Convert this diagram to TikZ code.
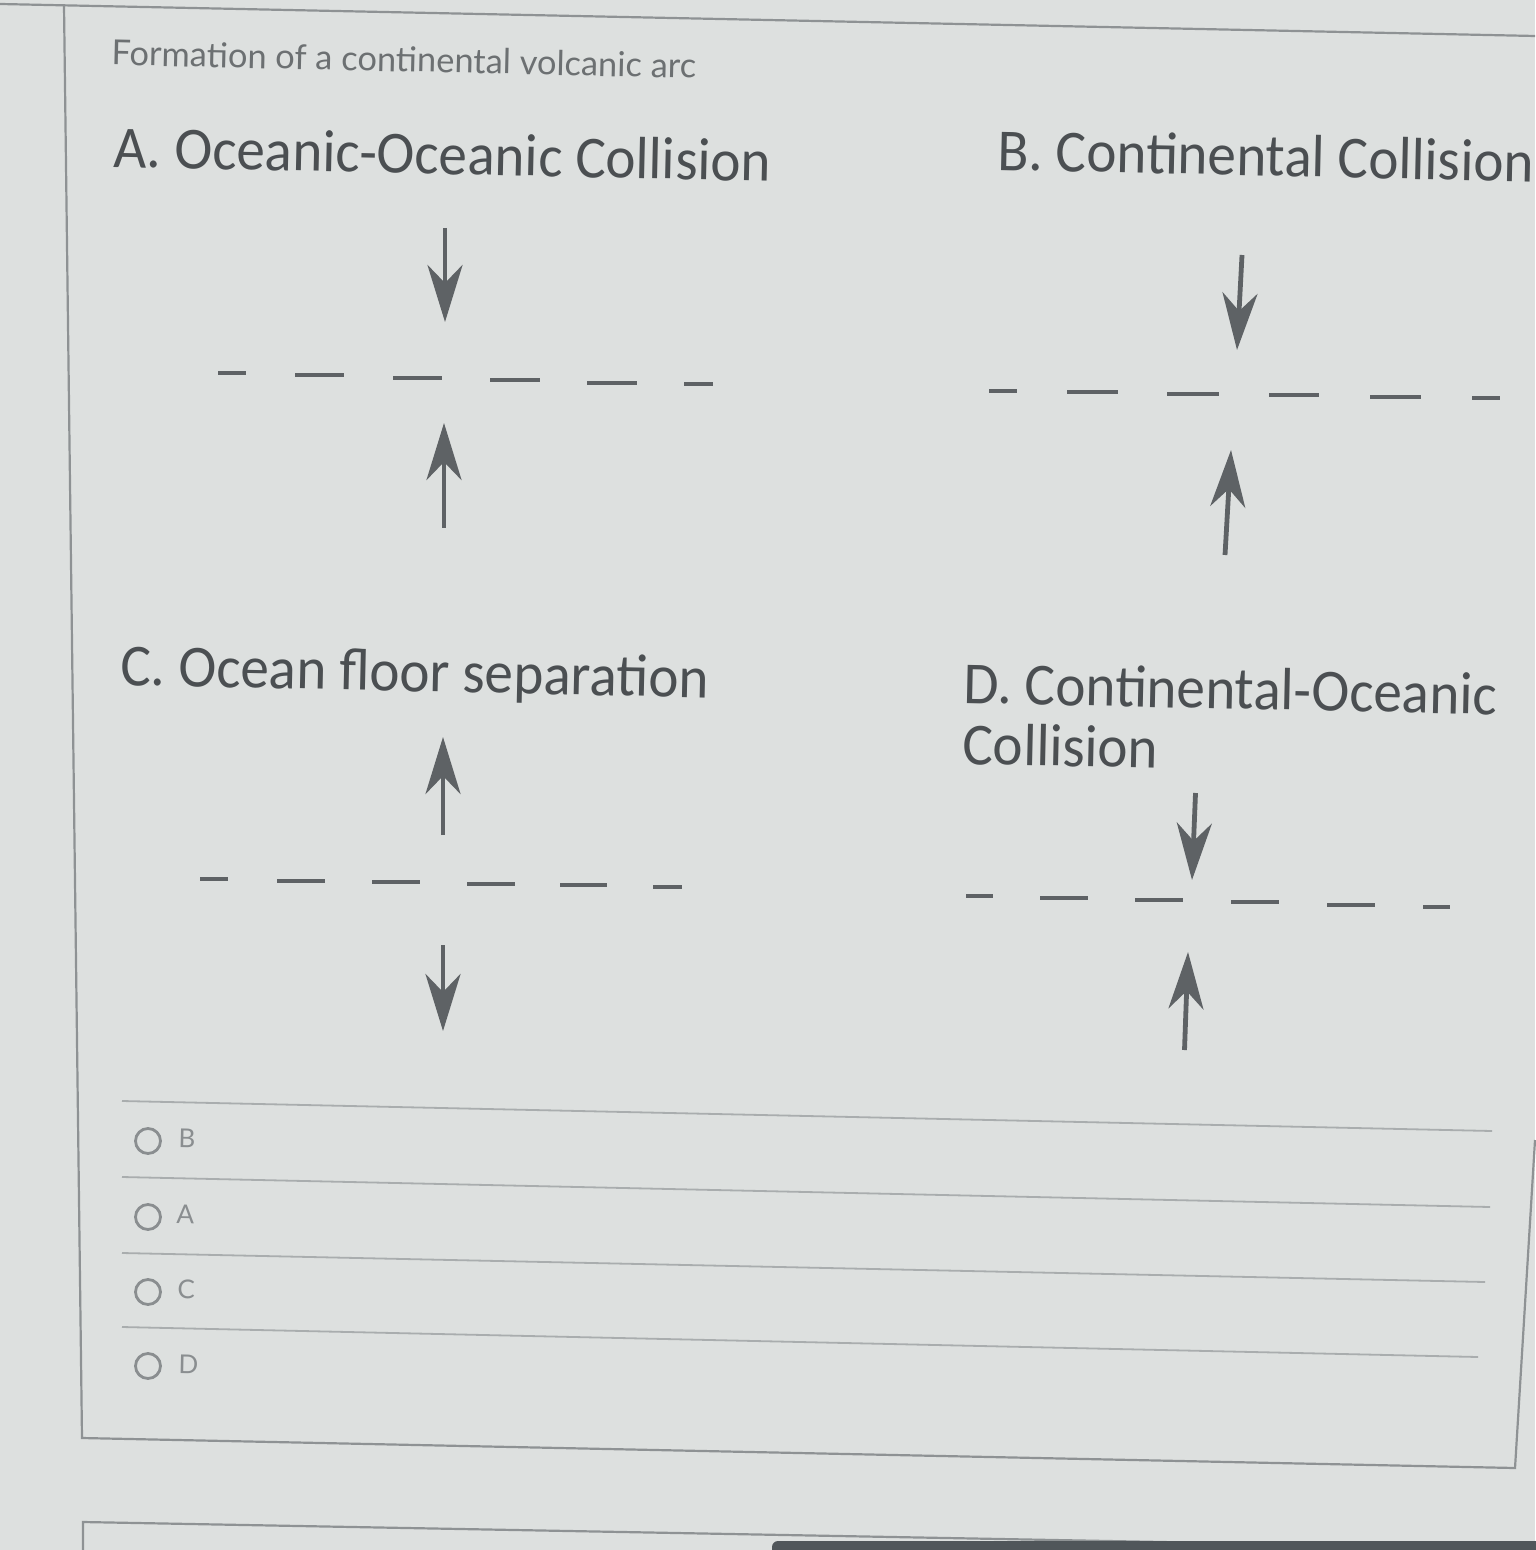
\documentclass[tikz,border=0pt]{standalone}
\usepackage{fontspec}
\setmainfont[FakeStretch=0.96]{Carlito}
\newfontfamily\latofont{Lato}
\usetikzlibrary{arrows.meta}
\definecolor{bg}{HTML}{DDE0DF}
\definecolor{ink}{HTML}{5E6265}
\definecolor{headc}{HTML}{4B4F52}
\definecolor{ttlc}{HTML}{6C7072}
\definecolor{optc}{HTML}{8A8E90}
\definecolor{framec}{HTML}{8E9294}
\definecolor{sepc}{HTML}{A9ADAE}
\definecolor{barc}{HTML}{50565A}
\begin{document}
\begin{tikzpicture}[x=0.5pt,y=-0.5pt,
  heading/.style={font=\fontsize{29.8}{30.5}\selectfont, text=headc, inner sep=0pt, anchor=base west, rotate=-1.25},
  titletext/.style={font=\latofont\fontsize{17.2}{19}\selectfont, text=ttlc, inner sep=0pt, anchor=base west, rotate=-1.3},
  optletter/.style={font=\latofont\fontsize{13}{15}\selectfont, text=optc, inner sep=0pt, anchor=base west, rotate=-1.2},
  radio/.style={circle, draw=optc, line width=1.4pt, minimum size=12.5pt, inner sep=0pt},
  arr/.style={draw=ink, line width=2.4pt, -{Stealth[length=28.5pt,width=17.5pt,inset=9pt]}},
  dsh/.style={draw=ink, line width=2.3pt},
  framel/.style={draw=framec, line width=1.1pt},
  sepl/.style={draw=sepc, line width=0.9pt}]
\fill[bg] (0,0) rectangle (1535,1550);
\useasboundingbox (0,0) rectangle (1535,1550);

% card frame
\coordinate (tl0) at (0,4);
\coordinate (tr0) at (1535,36);
\coordinate (lt) at (64,5);
\coordinate (lb) at (82,1438);
\coordinate (rb) at (1515,1468);
\coordinate (rt) at (1535,1140);
\draw[framel] (tl0) -- (tr0);
\draw[framel] (lt) -- (lb) -- (rb) -- (rt);

% next card
\coordinate (n1) at (83,1560);
\coordinate (n2) at (83,1522);
\coordinate (n3) at (1540,1549);
\draw[framel] (n1) -- (n2) -- (n3);
\fill[barc, rounded corners=3pt] (772,1541) rectangle (1560,1570);

% title
\node[titletext] (title) at (111,65) {Formation of a continental volcanic arc};

% headings
\node[heading] (hA) at (113,167) {A. Oceanic-Oceanic Collision};
\node[heading] (hB) at (997,170) {B. Continental Collision};
\node[heading] (hC) at (120,685) {C. Ocean floor separation};
\node[heading, align=left] (hD) at (962,764) {D. Continental-Oceanic\\Collision};

% dashes
\foreach \a/\b/\y in {218/246/373,295/344/375,393/442/378,490/540/380,587/637/383,684/713/384,
                      989/1017/391,1067/1118/392,1167/1219/394,1269/1319/395,1370/1421/397,1472/1500/398,
                      200/228/879,277/325/881,372/420/882,467/515/884,560/607/885,653/682/887,
                      966/993/896,1040/1088/898,1135/1183/900,1231/1279/902,1327/1375/905,1423/1450/907}
  \draw[dsh] (\a,\y) -- (\b,\y);

% arrows A
\coordinate (a1s) at (445,228); \coordinate (a1t) at (445,322);
\coordinate (a2s) at (444,528); \coordinate (a2t) at (444,423);
\draw[arr] (a1s) -- (a1t);
\draw[arr] (a2s) -- (a2t);
% arrows B
\coordinate (b1s) at (1242,255); \coordinate (b1t) at (1237,350);
\coordinate (b2s) at (1225,555); \coordinate (b2t) at (1231,450);
\draw[arr] (b1s) -- (b1t);
\draw[arr] (b2s) -- (b2t);
% arrows C
\coordinate (c1s) at (443,835); \coordinate (c1t) at (443,737);
\coordinate (c2s) at (443,945); \coordinate (c2t) at (443,1031);
\draw[arr] (c1s) -- (c1t);
\draw[arr] (c2s) -- (c2t);
% arrows D
\coordinate (d1s) at (1195.5,793); \coordinate (d1t) at (1192,880);
\coordinate (d2s) at (1184.5,1050); \coordinate (d2t) at (1188,952);
\draw[arr] (d1s) -- (d1t);
\draw[arr] (d2s) -- (d2t);

% option separators
\coordinate (s1a) at (122,1101); \coordinate (s1b) at (1492,1131);
\coordinate (s2a) at (122,1177); \coordinate (s2b) at (1490,1207);
\coordinate (s3a) at (122,1253); \coordinate (s3b) at (1485,1282);
\coordinate (s4a) at (122,1327); \coordinate (s4b) at (1478,1357);
\draw[sepl] (s1a) -- (s1b);
\draw[sepl] (s2a) -- (s2b);
\draw[sepl] (s3a) -- (s3b);
\draw[sepl] (s4a) -- (s4b);

% options
\node[radio] (rB) at (148,1141) {};
\node[radio] (rA) at (148,1217) {};
\node[radio] (rC) at (148,1292) {};
\node[radio] (rD) at (148,1366) {};
\node[optletter] (lB) at (178,1147) {B};
\node[optletter] (lA) at (176,1223) {A};
\node[optletter] (lC) at (177,1298) {C};
\node[optletter] (lD) at (178,1373) {D};
\end{tikzpicture}
\end{document}
